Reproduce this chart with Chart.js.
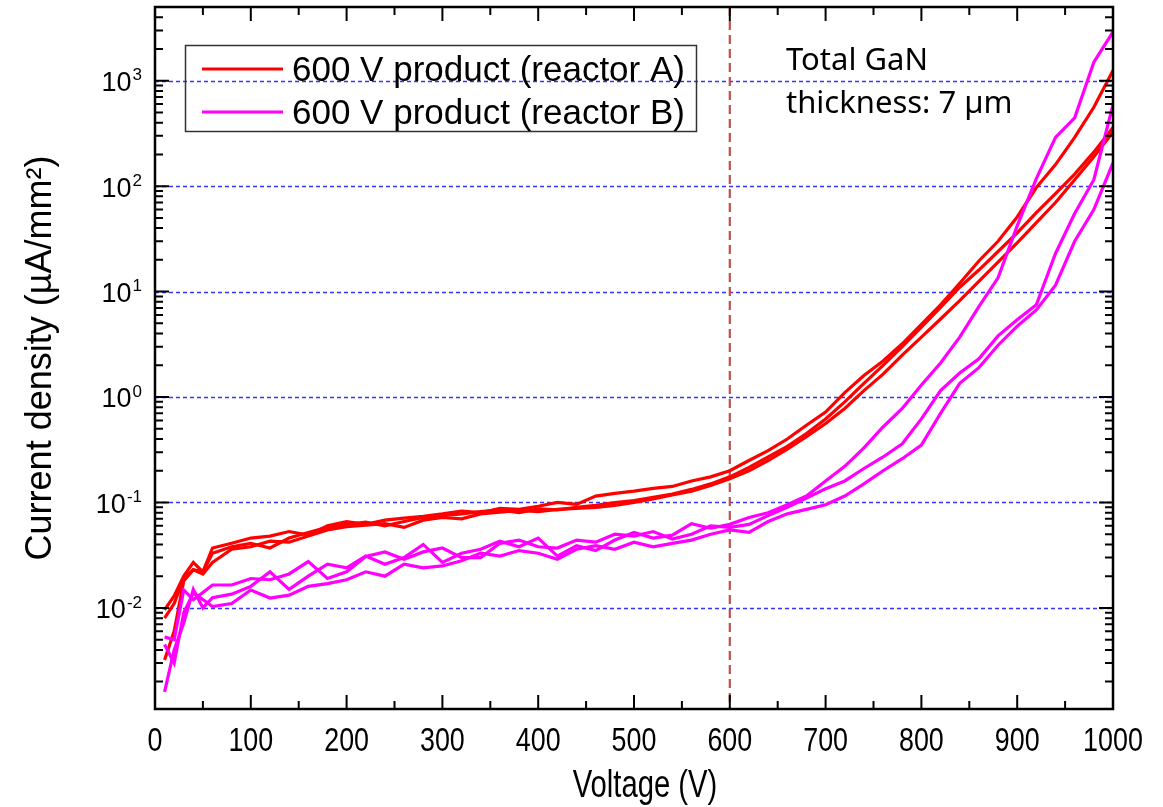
<!DOCTYPE html>
<html>
<head>
<meta charset="utf-8">
<title>Leakage current density vs voltage</title>
<script src="https://cdn.jsdelivr.net/npm/chart.js@4.4.1/dist/chart.umd.min.js"></script>
<style>
  html, body { margin: 0; padding: 0; background: #fff; }
  #chart { display: block; }
</style>
</head>
<body>
<canvas id="chart" width="1163" height="807"></canvas>
<script>
// sweep voltages shared by all six curves (V)
const voltages = [10, 20, 30, 40, 50, 60,
  80, 100, 120, 140, 160, 180, 200, 220, 240, 260, 280, 300, 320, 340, 360, 380, 400,
  420, 440, 460, 480, 500, 520, 540, 560, 580, 600,
  620, 640, 660, 680, 700, 720, 740, 760, 780, 800, 820, 840, 860, 880, 900, 920, 940, 960, 980, 1000];

// current density (uA/mm2), reactor A wafers
const reactorA1 = [0.0096, 0.013, 0.020, 0.027, 0.022, 0.037,
  0.041, 0.046, 0.048, 0.053, 0.049, 0.060, 0.066, 0.062, 0.068, 0.071, 0.074, 0.078, 0.083, 0.080, 0.088, 0.086, 0.092,
  0.100, 0.096, 0.115, 0.122, 0.128, 0.136, 0.142, 0.160, 0.175, 0.20,
  0.25, 0.31, 0.40, 0.54, 0.72, 1.1, 1.6, 2.2, 3.2, 4.9, 7.5, 12, 19.5, 30, 51, 97, 160, 290, 560, 1250];
const reactorA2 = [0.0080, 0.011, 0.019, 0.023, 0.022, 0.033,
  0.038, 0.041, 0.037, 0.046, 0.052, 0.058, 0.062, 0.065, 0.060, 0.066, 0.072, 0.075, 0.078, 0.082, 0.085, 0.080, 0.087,
  0.085, 0.090, 0.094, 0.100, 0.104, 0.112, 0.120, 0.133, 0.150, 0.175,
  0.215, 0.27, 0.34, 0.45, 0.62, 0.90, 1.35, 2.0, 3.0, 4.6, 7.1, 11, 16, 24, 36, 56, 85, 130, 210, 360];
const reactorA3 = [0.0032, 0.0060, 0.018, 0.023, 0.021, 0.027,
  0.036, 0.038, 0.043, 0.042, 0.048, 0.055, 0.059, 0.061, 0.063, 0.058, 0.068, 0.072, 0.070, 0.078, 0.081, 0.084, 0.082,
  0.086, 0.088, 0.090, 0.094, 0.100, 0.108, 0.118, 0.128, 0.145, 0.168,
  0.20, 0.25, 0.32, 0.42, 0.56, 0.78, 1.15, 1.65, 2.5, 3.7, 5.5, 8.2, 12.5, 19, 29, 45, 70, 115, 190, 325];

// current density (uA/mm2), reactor B wafers
const reactorB1 = [0.0016, 0.0040, 0.0072, 0.0150, 0.0100, 0.0125,
  0.0135, 0.0160, 0.0220, 0.0150, 0.0200, 0.0260, 0.0240, 0.0310, 0.0260, 0.0300, 0.0400, 0.0270, 0.0330, 0.0360, 0.0430, 0.0380, 0.0460,
  0.0310, 0.0390, 0.0350, 0.0440, 0.0520, 0.0460, 0.0490, 0.0630, 0.0570, 0.0620,
  0.072, 0.080, 0.095, 0.115, 0.16, 0.22, 0.33, 0.52, 0.78, 1.3, 2.1, 3.7, 7.2, 13.5, 42, 118, 290, 445, 1500, 2900];
const reactorB2 = [0.0053, 0.0050, 0.0148, 0.0120, 0.0140, 0.0165,
  0.0165, 0.0190, 0.0185, 0.0210, 0.0275, 0.0190, 0.0220, 0.0307, 0.0340, 0.0290, 0.0340, 0.0370, 0.0300, 0.0300, 0.0410, 0.0440, 0.0380,
  0.0370, 0.0440, 0.0420, 0.0500, 0.0480, 0.0530, 0.0450, 0.0500, 0.0600, 0.058,
  0.062, 0.075, 0.090, 0.110, 0.135, 0.160, 0.21, 0.27, 0.36, 0.62, 1.15, 1.69, 2.3, 3.8, 5.4, 7.5, 23, 55, 115, 590];
const reactorB3 = [0.0045, 0.0030, 0.0090, 0.0138, 0.0120, 0.0103,
  0.0110, 0.0148, 0.0124, 0.0132, 0.0160, 0.0170, 0.0185, 0.0220, 0.0200, 0.0260, 0.0240, 0.0250, 0.0280, 0.0330, 0.0310, 0.0350, 0.0330,
  0.0290, 0.0360, 0.0390, 0.0360, 0.0420, 0.0380, 0.0410, 0.0440, 0.0500, 0.055,
  0.052, 0.066, 0.078, 0.086, 0.095, 0.115, 0.15, 0.20, 0.26, 0.35, 0.70, 1.35, 1.9, 3.1, 4.7, 6.7, 11.5, 30, 60, 166];

const seriesLabels = ['600 V product (reactor A)', '600 V product (reactor B)'];
const seriesColors = ['#ff0000', '#ff00ff'];
const yDecades = [-2, -1, 0, 1, 2, 3];     // labelled powers of ten
const xTickStep = 100;
const markerVoltage = 600;                 // rated voltage marker
const xTitle = 'Voltage (V)';
const noteLines = ['Total GaN', 'thickness: 7 \u00b5m'];

const ARIAL = "'Liberation Sans', Arial, sans-serif";
const NOTE_FONT = "'Noto Sans', 'Open Sans', sans-serif";

function curve(values, group) {
    return {
        label: seriesLabels[group],
        data: voltages.map((v, i) => ({ x: v, y: values[i] })),
        borderColor: seriesColors[group],
        borderWidth: 3.2,
        pointRadius: 0,
        tension: 0,
        fill: false,
        order: group === 0 ? 1 : 0
    };
}

// log ticks 1..9 x 10^n inside the axis range
function logTicks(min, max) {
    const out = [];
    for (let e = -4; e <= 4; e++) {
        for (let m = 1; m <= 9; m++) {
            const v = Number((m * Math.pow(10, e)).toPrecision(3));
            if (v >= min && v <= max) out.push({ v, major: m === 1 });
        }
    }
    return out;
}

// condensed text for the voltage axis (Arial Narrow look)
function narrowText(ctx, text, cx, baseline, size, squeeze) {
    ctx.save();
    ctx.font = size + 'px ' + ARIAL;
    ctx.textAlign = 'center';
    ctx.textBaseline = 'alphabetic';
    ctx.translate(cx, baseline);
    ctx.scale(squeeze, 1);
    ctx.fillText(text, 0, 0);
    ctx.restore();
}

const framePlugin = {
    id: 'frame',
    beforeDatasetsDraw(chart) {
        const { ctx, chartArea: a, scales: { x, y } } = chart;
        ctx.save();
        // dashed decade grid
        ctx.setLineDash([4, 3]);
        ctx.lineWidth = 1.3;
        ctx.strokeStyle = '#3434ff';
        yDecades.forEach(e => {
            const py = Math.round(y.getPixelForValue(Math.pow(10, e))) + 0.5;
            ctx.beginPath();
            ctx.moveTo(a.left, py);
            ctx.lineTo(a.right, py);
            ctx.stroke();
        });
        // 600 V marker
        const mx = x.getPixelForValue(markerVoltage);
        ctx.setLineDash([9, 5]);
        ctx.lineWidth = 2.2;
        ctx.strokeStyle = '#c0504d';
        ctx.beginPath();
        ctx.moveTo(mx, a.top);
        ctx.lineTo(mx, a.bottom);
        ctx.stroke();
        ctx.restore();
    },
    afterDatasetsDraw(chart) {
        const { ctx, chartArea: a, scales: { x, y } } = chart;
        ctx.save();
        ctx.strokeStyle = '#000';
        ctx.fillStyle = '#000';

        // inward ticks on all four sides
        ctx.lineWidth = 2;
        ctx.beginPath();
        for (let v = x.min; v <= x.max; v += xTickStep / 2) {
            const px = x.getPixelForValue(v);
            const len = v % xTickStep === 0 ? 14 : 8;
            ctx.moveTo(px, a.bottom);
            ctx.lineTo(px, a.bottom - len);
            ctx.moveTo(px, a.top);
            ctx.lineTo(px, a.top + len);
        }
        logTicks(y.min, y.max).forEach(t => {
            const py = y.getPixelForValue(t.v);
            const len = t.major ? 14 : 8;
            ctx.moveTo(a.left, py);
            ctx.lineTo(a.left + len, py);
            ctx.moveTo(a.right, py);
            ctx.lineTo(a.right - len, py);
        });
        ctx.stroke();

        // axis frame
        ctx.lineWidth = 2.5;
        ctx.strokeRect(a.left, a.top, a.right - a.left, a.bottom - a.top);

        // x tick labels and title
        for (let v = x.min; v <= x.max; v += xTickStep) {
            narrowText(ctx, String(v), x.getPixelForValue(v), a.bottom + 42, 34, 0.79);
        }
        narrowText(ctx, xTitle, (a.left + a.right) / 2 + 11, a.bottom + 88, 39, 0.75);

        // y tick labels as 10 with raised exponent
        ctx.textBaseline = 'middle';
        ctx.textAlign = 'left';
        yDecades.forEach(e => {
            const py = y.getPixelForValue(Math.pow(10, e));
            ctx.font = '27px ' + ARIAL;
            const wb = ctx.measureText('10').width;
            ctx.font = '17px ' + ARIAL;
            const we = ctx.measureText(String(e)).width;
            const x0 = a.left - 14 - wb - we;
            ctx.font = '27px ' + ARIAL;
            ctx.fillText('10', x0, py + 3);
            ctx.font = '17px ' + ARIAL;
            ctx.fillText(String(e), x0 + wb + 1, py - 5);
        });

        // legend box
        const lx = a.left + 30, ly = a.top + 38;
        ctx.lineWidth = 1.5;
        ctx.strokeStyle = '#333';
        ctx.strokeRect(lx + 0.5, ly + 0.5, 511, 86);
        ctx.font = '35px ' + ARIAL;
        seriesLabels.forEach((label, i) => {
            const ry = ly + 24 + i * 43;
            ctx.strokeStyle = seriesColors[i];
            ctx.lineWidth = 3.2;
            ctx.beginPath();
            ctx.moveTo(lx + 17, ry);
            ctx.lineTo(lx + 98, ry);
            ctx.stroke();
            ctx.fillStyle = '#000';
            ctx.fillText(label, lx + 107, ry + 2);
        });

        // stack note
        ctx.font = '31px ' + NOTE_FONT;
        ctx.textBaseline = 'alphabetic';
        noteLines.forEach((line, i) => {
            ctx.fillText(line, a.left + 631, a.top + 63 + i * 43);
        });
        ctx.restore();
    }
};

new Chart(document.getElementById('chart').getContext('2d'), {
    type: 'line',
    data: {
        datasets: [
            curve(reactorA1, 0), curve(reactorA2, 0), curve(reactorA3, 0),
            curve(reactorB1, 1), curve(reactorB2, 1), curve(reactorB3, 1)
        ]
    },
    options: {
        responsive: false,
        animation: false,
        devicePixelRatio: 1,
        events: [],
        layout: { padding: { top: 7, right: 50, left: 0, bottom: 0 } },
        plugins: {
            legend: { display: false },
            tooltip: { enabled: false }
        },
        scales: {
            x: {
                type: 'linear',
                min: 0,
                max: 1000,
                grid: { display: false, drawTicks: false },
                border: { display: false },
                ticks: { display: false, stepSize: xTickStep },
                afterFit(scale) { scale.height = 98; }
            },
            y: {
                type: 'logarithmic',
                min: 0.0011,
                max: 5000,
                grid: { display: false, drawTicks: false },
                border: { display: false },
                ticks: { display: false },
                title: {
                    display: true,
                    text: 'Current density (\u00b5A/mm\u00b2)',
                    color: '#000',
                    font: { family: ARIAL, size: 36 },
                    padding: { top: 19, bottom: 0 }
                },
                afterFit(scale) { scale.width = 155; }
            }
        }
    },
    plugins: [framePlugin]
});
</script>
</body>
</html>
